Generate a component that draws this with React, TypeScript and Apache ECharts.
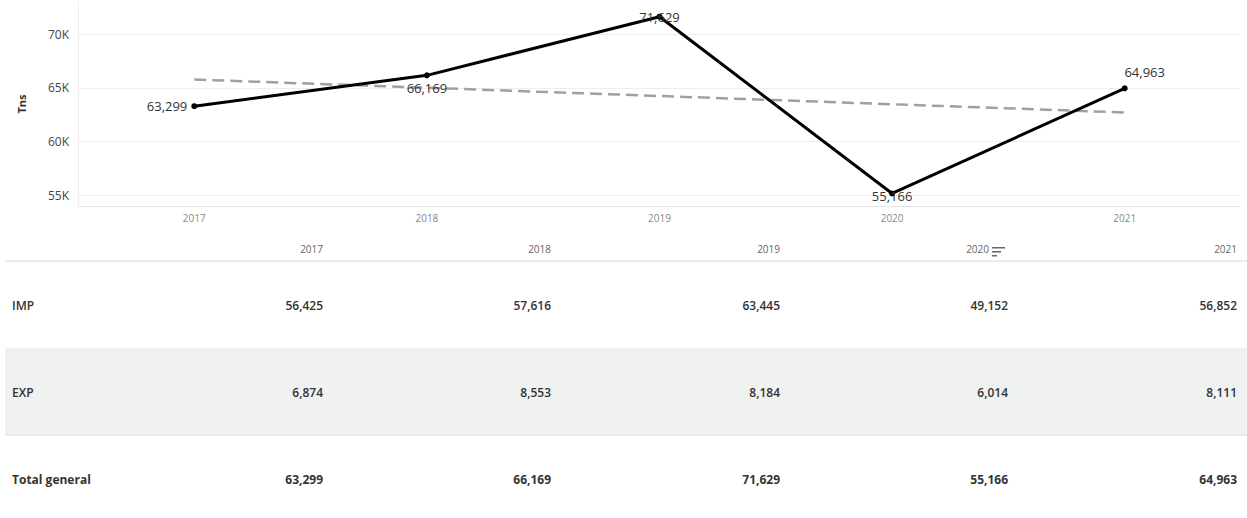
import React, { useEffect, useRef } from "react";
import * as echarts from "echarts";

const years = ["2017", "2018", "2019", "2020", "2021"];
const totals = [63299, 66169, 71629, 55166, 64963];
const imports = [56425, 57616, 63445, 49152, 56852];
const exportsArr = [6874, 8553, 8184, 6014, 8111];
const trendStart = 65780;
const trendEnd = 62710;
const yTicks = [55000, 60000, 65000, 70000];
const rowNames = ["IMP", "EXP", "Total general"];

const fmt = (v: number) => v.toLocaleString("en-US");

export default function App() {
  const ref = useRef<HTMLDivElement>(null);
  useEffect(() => {
    if (!ref.current) return;
    const chart = echarts.init(ref.current, null, { renderer: "svg" });
    const font = "'Open Sans', sans-serif";
    const colRight = [323, 551, 780, 1008, 1237];
    const rowY = [305, 392, 479];
    const rows = [imports, exportsArr, totals];
    const graphics: any[] = [];
    graphics.push({ type: "rect", shape: { x: 5, y: 348, width: 1242, height: 87 }, style: { fill: "#f0f1f1" }, z: 0 });
    graphics.push({ type: "line", shape: { x1: 5, y1: 261, x2: 1247, y2: 261 }, style: { stroke: "#dcd6d6", lineWidth: 1 } });
    graphics.push({ type: "line", shape: { x1: 5, y1: 435, x2: 1247, y2: 435 }, style: { stroke: "#dddddd", lineWidth: 1 } });
    years.forEach((yr, i) => {
      graphics.push({
        type: "text", x: i === 3 ? colRight[i] - 19 : colRight[i], y: 249,
        style: { text: yr, textAlign: "right", textVerticalAlign: "middle", fontSize: 10, fill: "#666", fontFamily: font },
      });
    });
    [[992, 247, 13], [992, 251, 9], [992, 255, 5]].forEach(([x, y, w]) => {
      graphics.push({ type: "rect", shape: { x, y, width: w, height: 1.5 }, style: { fill: "#666" } });
    });
    rowNames.forEach((name, r) => {
      const bold = r === 2 ? 700 : 600;
      graphics.push({
        type: "text", x: 12, y: rowY[r],
        style: { text: name, textAlign: "left", textVerticalAlign: "middle", fontSize: 12, fontWeight: bold, fill: "#333", fontFamily: font },
      });
      rows[r].forEach((v, i) => {
        graphics.push({
          type: "text", x: colRight[i], y: rowY[r],
          style: { text: fmt(v), textAlign: "right", textVerticalAlign: "middle", fontSize: 12, fontWeight: bold, fill: "#333", fontFamily: font },
        });
      });
    });

    const labelPos: any[] = [
      { position: "left", distance: 4 },
      { position: "bottom", distance: 3 },
      { position: "inside", offset: [0, 0] },
      { position: "inside", offset: [0, 3] },
      { position: "top", offset: [20, -2] },
    ];

    chart.setOption({
      animation: false,
      textStyle: { fontFamily: font },
      grid: { left: 78, right: 6, top: 2, height: 204 },
      xAxis: {
        type: "category",
        data: years,
        axisLine: { show: true, lineStyle: { color: "#e6e6e6" } },
        axisTick: { show: false },
        axisLabel: { color: "#888", fontSize: 10, margin: 7 },
      },
      yAxis: {
        type: "value",
        min: 54000,
        max: 73000,
        name: "Tns",
        nameLocation: "middle",
        nameRotate: 90,
        nameGap: 51,
        nameTextStyle: { fontSize: 11, fontWeight: "bold", color: "#333" },
        axisLine: { show: true, lineStyle: { color: "#eeeeee" } },
        axisTick: { show: false, customValues: yTicks },
        axisLabel: { customValues: yTicks, formatter: (v: number) => v / 1000 + "K", color: "#444", fontSize: 12, margin: 9 },
        splitLine: { show: true, lineStyle: { color: "#eeeeee" } },
      },
      series: [
        {
          type: "line",
          data: [[0, trendStart], [4, trendEnd]],
          symbol: "none",
          lineStyle: { color: "#a0a0a0", width: 2.5, type: [12, 6] },
          z: 1,
          silent: true,
        },
        {
          type: "line",
          data: totals.map((v, i) => ({ value: v, label: { show: true, ...labelPos[i] } })),
          symbol: "circle",
          symbolSize: 6,
          itemStyle: { color: "#000" },
          lineStyle: { color: "#000", width: 3 },
          label: { show: true, formatter: (p: any) => fmt(p.value), fontSize: 13, color: "#333" },
          z: 3,
        },
      ],
      graphic: graphics,
    });
    return () => chart.dispose();
  }, []);
  return <div ref={ref} style={{ position: "fixed", left: 0, top: 0, width: 1247, height: 518, background: "#fff" }} />;
}
